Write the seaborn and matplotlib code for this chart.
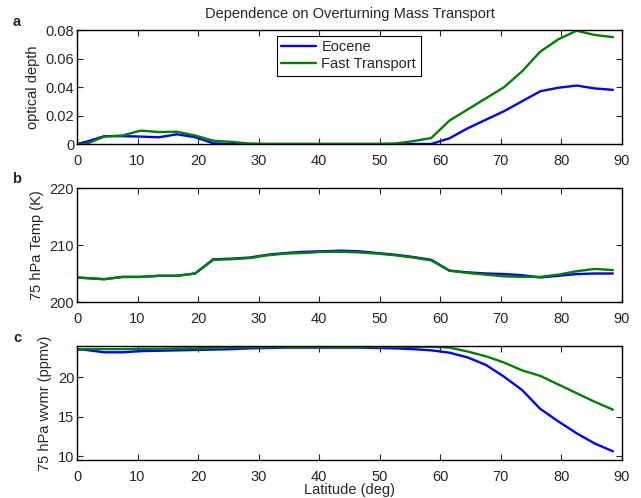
import numpy as np
import pandas as pd
import matplotlib
matplotlib.use("Agg")
import matplotlib.pyplot as plt
import seaborn as sns

# ---------------- data ----------------
lat = [0, 1.5, 4.5, 7.5, 10.5, 13.5, 16.5, 19.5, 22.5, 25.5, 28.5, 31.5, 34.5,
       37.5, 40.5, 43.5, 46.5, 49.5, 52.5, 55.5, 58.5, 61.5, 64.5, 67.5, 70.5,
       73.5, 76.5, 79.5, 82.5, 85.5, 88.5]

series_names = ["Eocene", "Fast Transport"]

od_eocene = [0, 0.0015, 0.0055, 0.0055, 0.0052, 0.0047, 0.0068, 0.0048, 0.0005,
             0, 0, 0, 0, 0, 0, 0, 0, 0, 0, 0, 0, 0.004, 0.011, 0.017, 0.023,
             0.030, 0.037, 0.0395, 0.041, 0.039, 0.038]
od_fast = [0, 0, 0.0052, 0.006, 0.0094, 0.0084, 0.0086, 0.006, 0.0023, 0.0015,
           0.0003, 0, 0, 0, 0, 0, 0, 0, 0.0003, 0.002, 0.0042, 0.0164, 0.0242,
           0.032, 0.0398, 0.051, 0.0648, 0.0735, 0.0795, 0.0765, 0.075]

temp_eocene = [204.3, 204.2, 204.0, 204.4, 204.4, 204.6, 204.6, 205.0, 207.5,
               207.6, 207.8, 208.3, 208.6, 208.8, 208.9, 209.0, 208.9, 208.6,
               208.3, 207.9, 207.4, 205.5, 205.2, 205.0, 204.9, 204.7, 204.3,
               204.6, 204.9, 205.0, 205.0]
temp_fast = [204.3, 204.2, 204.0, 204.4, 204.4, 204.6, 204.6, 205.0, 207.4,
             207.5, 207.7, 208.2, 208.5, 208.6, 208.8, 208.8, 208.7, 208.5,
             208.2, 207.8, 207.3, 205.5, 205.1, 204.8, 204.5, 204.4, 204.4,
             204.8, 205.4, 205.8, 205.6]

wv_eocene = [23.6, 23.5, 23.2, 23.2, 23.35, 23.4, 23.45, 23.5, 23.55, 23.6,
             23.7, 23.75, 23.8, 23.8, 23.8, 23.8, 23.8, 23.75, 23.7, 23.6,
             23.45, 23.15, 22.55, 21.6, 20.1, 18.4, 16.0, 14.4, 12.9, 11.6, 10.6]
wv_fast = [23.5, 23.6, 23.6, 23.6, 23.65, 23.65, 23.7, 23.7, 23.75, 23.8,
           23.85, 23.85, 23.9, 23.9, 23.9, 23.9, 23.9, 23.9, 23.9, 23.9, 23.9,
           23.8, 23.3, 22.7, 21.9, 20.9, 20.2, 19.1, 18.0, 16.9, 15.9]

xticks = [0, 10, 20, 30, 40, 50, 60, 70, 80, 90]
yticks_a = [0, 0.02, 0.04, 0.06, 0.08]
yticklabels_a = ["0", "0.02", "0.04", "0.06", "0.08"]
yticks_b = [200, 210, 220]
yticks_c = [10, 15, 20]

title = "Dependence on Overturning Mass Transport"
ylabels = ["optical depth", "75 hPa Temp (K)", "75 hPa wvmr (ppmv)"]
panel_letters = ["a", "b", "c"]
xlabel = "Latitude (deg)"

# ---------------- style ----------------
FS = 10.5
sns.set_style("ticks")
plt.rcParams["font.family"] = ["Liberation Sans", "DejaVu Sans"]
plt.rcParams["font.size"] = FS
plt.rcParams["xtick.direction"] = "in"
plt.rcParams["ytick.direction"] = "in"
plt.rcParams["xtick.top"] = True
plt.rcParams["ytick.right"] = True
plt.rcParams["axes.edgecolor"] = "black"
plt.rcParams["axes.linewidth"] = 1.0

palette = {"Eocene": "#0000ff", "Fast Transport": "#008000"}

def long_df(a, b):
    return pd.DataFrame({
        "lat": lat + lat,
        "val": a + b,
        "case": [series_names[0]] * len(lat) + [series_names[1]] * len(lat),
    })

W, H = 641, 498
fig = plt.figure(figsize=(W / 100, H / 100), dpi=100)
left, right = 77, 622
boxes = [(30, 144), (188, 302), (346, 460)]
axes = []
for top, bot in boxes:
    ax = fig.add_axes([left / W, 1 - bot / H, (right - left) / W, (bot - top) / H])
    axes.append(ax)

data_sets = [(od_eocene, od_fast), (temp_eocene, temp_fast), (wv_eocene, wv_fast)]
for i, (ax, (a, b)) in enumerate(zip(axes, data_sets)):
    sns.lineplot(data=long_df(a, b), x="lat", y="val", hue="case",
                 palette=palette, estimator=None, sort=False, lw=1.7,
                 ax=ax, legend=(i == 0))
    ax.set_xlim(0, 90)
    ax.set_xticks(xticks)
    ax.set_xticklabels([str(t) for t in xticks])
    ax.set_ylabel(ylabels[i], fontsize=FS, labelpad=4)
    ax.set_xlabel("")
    ax.tick_params(length=4, width=0.8, labelsize=FS, top=True, right=True)
    ax.tick_params(axis="x", pad=7)
    ax.tick_params(axis="y", pad=2)
    for s in ax.spines.values():
        s.set_visible(True)
        s.set_linewidth(1.0)

axes[0].set_ylim(0, 0.08)
axes[0].set_yticks(yticks_a)
axes[0].set_yticklabels(yticklabels_a)
axes[1].set_ylim(200, 220)
axes[1].set_yticks(yticks_b)
axes[1].set_yticklabels([str(t) for t in yticks_b])
axes[2].set_ylim(9.5, 24)
axes[2].set_yticks(yticks_c)
axes[2].set_yticklabels([str(t) for t in yticks_c])
axes[2].set_xlabel(xlabel, fontsize=FS, labelpad=-0.5)

axes[0].set_title(title, fontsize=FS, pad=9)

leg = axes[0].legend(loc="upper left", bbox_to_anchor=(277 / W, 1 - 36 / H),
                     bbox_transform=fig.transFigure, fancybox=False,
                     edgecolor="black", framealpha=1, handlelength=2.4,
                     handletextpad=0.35, borderpad=0.3, labelspacing=0.2,
                     fontsize=FS, borderaxespad=0)
leg.get_frame().set_linewidth(0.8)

for letter, y in zip(panel_letters, [22, 179, 338]):
    fig.text(17 / W, 1 - y / H, letter, fontsize=FS, fontweight="bold",
             ha="center", va="center")

fig.savefig("out.png", dpi=100)
